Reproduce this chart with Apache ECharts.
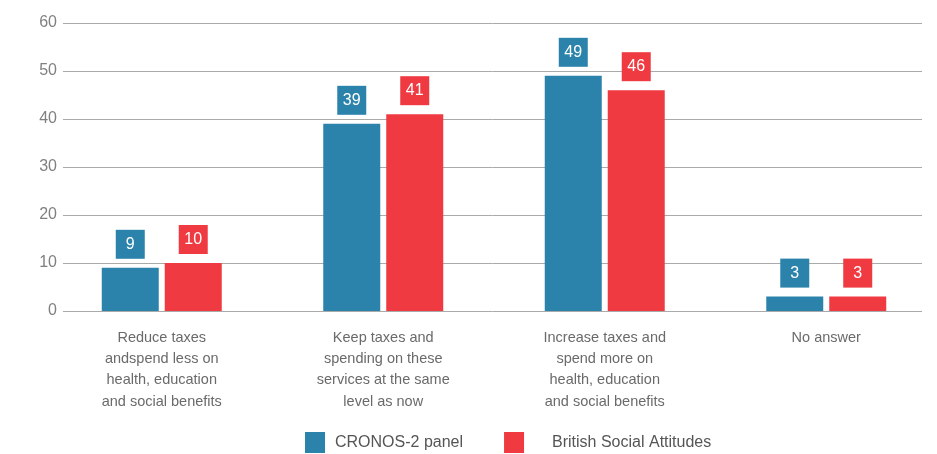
<!DOCTYPE html>
<html>
<head>
<meta charset="utf-8">
<script src="https://cdn.jsdelivr.net/npm/echarts@6/dist/echarts.min.js"></script>
<style>html,body{margin:0;padding:0;background:#fff}#c{width:937px;height:454px}</style>
</head>
<body>
<div id="c"></div>
<script>
const categories = [
  'Reduce taxes\nandspend less on\nhealth, education\nand social benefits',
  'Keep taxes and\nspending on these\nservices at the same\nlevel as now',
  'Increase taxes and\nspend more on\nhealth, education\nand social benefits',
  'No answer'
];
const seriesNames = ['CRONOS-2 panel', 'British Social Attitudes'];
const cronosValues = [9, 39, 49, 3];
const bsaValues = [10, 41, 46, 3];
const yTicks = [0, 10, 20, 30, 40, 50, 60];

const BLUE = '#2b83ab', RED = '#ef3a42';
const FONT = '"Liberation Sans", Arial, sans-serif';

function mkLabel(bg) {
  return {
    show: true, position: 'top', distance: 9,
    backgroundColor: bg, color: '#fff',
    width: 29, height: 29, lineHeight: 29, padding: 0,
    align: 'center',
    fontFamily: FONT, fontSize: 16
  };
}

const chart = echarts.init(document.getElementById('c'), null, {renderer: 'canvas'});
chart.setOption({
  animation: false,
  grid: [
    {left: 63, right: 15, top: 23, bottom: 143},
    {left: 51, width: 894, top: 23, bottom: 143}
  ],
  legend: {
    data: seriesNames,
    top: 427, left: 300,
    itemWidth: 20, itemHeight: 21, itemGap: 41,
    icon: 'rect',
    textStyle: {
      color: '#555', fontFamily: FONT, fontSize: 16,
      rich: {
        a: {padding: [0, 0, 0, 5], color: '#555', fontFamily: FONT, fontSize: 16},
        b: {padding: [0, 0, 0, 23], color: '#555', fontFamily: FONT, fontSize: 16}
      }
    },
    formatter: function (n) { return (n === seriesNames[1] ? '{b|' : '{a|') + n + '}'; }
  },
  xAxis: [
    {gridIndex: 0, type: 'value', min: 0, max: 1, show: false},
    {
      gridIndex: 1, type: 'category', data: categories,
      axisLine: {show: false}, axisTick: {show: false},
      axisLabel: {color: '#6a6a6a', fontFamily: FONT, fontSize: 14.5, lineHeight: 21.3, margin: 16, interval: 0}
    }
  ],
  yAxis: [
    {
      gridIndex: 0, type: 'value', min: yTicks[0], max: yTicks[yTicks.length - 1], interval: 10,
      axisLine: {show: false}, axisTick: {show: false},
      axisLabel: {color: '#808080', fontFamily: FONT, fontSize: 16, margin: 6},
      splitLine: {lineStyle: {color: '#aaa', width: 1}}
    },
    {gridIndex: 1, type: 'value', min: 0, max: 60, show: false}
  ],
  series: [
    {
      name: seriesNames[0], type: 'bar', xAxisIndex: 1, yAxisIndex: 1,
      data: cronosValues, barWidth: 57, barGap: '10.5%',
      itemStyle: {color: BLUE}, label: mkLabel(BLUE)
    },
    {
      name: seriesNames[1], type: 'bar', xAxisIndex: 1, yAxisIndex: 1,
      data: bsaValues, barWidth: 57, barGap: '10.5%',
      itemStyle: {color: RED}, label: mkLabel(RED)
    }
  ]
});
</script>
</body>
</html>
